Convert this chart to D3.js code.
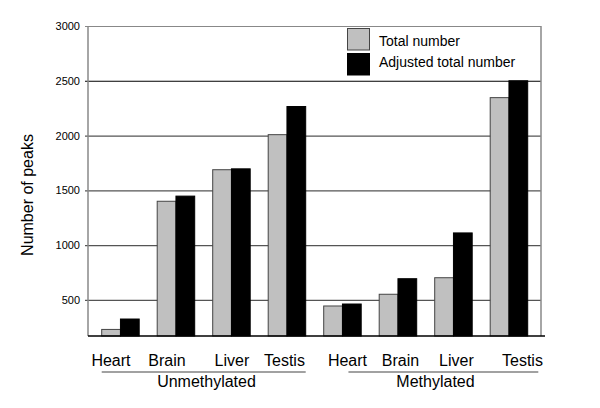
<!DOCTYPE html>
<html>
<head>
<meta charset="utf-8">
<script src="https://cdn.jsdelivr.net/npm/d3@7"></script>
<style>
html,body{margin:0;padding:0;background:#fff;}
svg{display:block;font-family:"Liberation Sans",Arial,sans-serif;}
</style>
</head>
<body>
<svg id="chart" width="600" height="408"></svg>
<script>
const categories = ["Heart","Brain","Liver","Testis","Heart","Brain","Liver","Testis"];
const groups = ["Unmethylated","Methylated"];
const groupOf = [0,0,0,0,1,1,1,1];
const seriesNames = ["Total number","Adjusted total number"];
const totalNumber = [230, 1400, 1688, 2008, 444, 551, 702, 2346];
const adjustedNumber = [325, 1447, 1696, 2265, 462, 693, 1111, 2500];
const yTicks = [500, 1000, 1500, 2000, 2500, 3000];
const colors = ["#c0c0c0", "#000000"];

(function(){
const svg = d3.select("#chart");
const pLeft = 88, pRight = 541, pTop = 26, pBottom = 336;
// label nudges (layout only)
const labelShift = [-9.5, -9, 0.5, -2.5, 5, 2.5, 3, 13.5];

const y = d3.scaleLinear().domain([170, 3000]).range([pBottom, pTop]);
const ids = categories.map((c,i)=>i);
const x0 = d3.scaleBand().domain(ids).range([92.7, 536.7]).padding(0);
const x1 = d3.scaleBand().domain([0,1]).range([9, 46.5]).padding(0);

// gridlines
const yAxis = d3.axisLeft(y).tickValues(yTicks).tickSize(-(pRight - pLeft + 3)).tickPadding(5)
  .tickFormat(d3.format("d"));
const gAxis = svg.append("g").attr("transform", `translate(${pLeft - 3},0)`).call(yAxis);
gAxis.select(".domain").remove();
gAxis.selectAll(".tick line")
  .attr("stroke", d => d === 2500 ? "#000" : (d === 3000 ? "#888" : "#555"))
  .attr("stroke-width", 1.2);
gAxis.selectAll(".tick text").attr("font-size", 11).attr("fill", "#000")
  .attr("font-family", "Liberation Sans, Arial, sans-serif");

// left and right borders
svg.append("line").attr("x1", pLeft).attr("x2", pLeft).attr("y1", y(3000)).attr("y2", pBottom)
  .attr("stroke", "#888").attr("stroke-width", 1.5);
svg.append("line").attr("x1", pRight).attr("x2", pRight).attr("y1", y(3000)).attr("y2", pBottom)
  .attr("stroke", "#888").attr("stroke-width", 1.5);

// bars
const rows = ids.map(i => ({i, vals: [totalNumber[i], adjustedNumber[i]]}));
const gBars = svg.append("g");
rows.forEach(r => {
  r.vals.forEach((v, s) => {
    gBars.append("rect")
      .attr("x", x0(r.i) + x1(s))
      .attr("y", y(v))
      .attr("width", x1.bandwidth())
      .attr("height", y(170) - y(v))
      .attr("fill", colors[s])
      .attr("stroke", s === 0 ? "#444" : "#000")
      .attr("stroke-width", 1);
  });
});

// baseline
svg.append("line").attr("x1", pLeft).attr("x2", 545).attr("y1", pBottom).attr("y2", pBottom)
  .attr("stroke", "#000").attr("stroke-width", 1.5);

// category labels
svg.append("g").selectAll("text").data(ids).join("text")
  .attr("x", i => x0(i) + x1(1) + labelShift[i])
  .attr("y", 366)
  .attr("text-anchor", "middle")
  .attr("font-size", 16)
  .text(i => categories[i]);

// group underlines and labels
groups.forEach((g, gi) => {
  const members = ids.filter(i => groupOf[i] === gi);
  const first = members[0], last = members[members.length - 1];
  const a = gi === 0 ? x0(first) + x1(0) : x0(first) + x1(1) + 6;
  const b = gi === 0 ? x0(last) + x1(1) + x1.bandwidth() : x0(last) + x1(1) + x1.bandwidth() + 10.6;
  svg.append("line").attr("x1", a).attr("x2", b).attr("y1", 372).attr("y2", 372)
    .attr("stroke", "#444").attr("stroke-width", 1.2);
  svg.append("text").attr("x", gi === 0 ? 206.5 : 435.5).attr("y", 387)
    .attr("text-anchor", "middle").attr("font-size", 16).text(g);
});

// y label
svg.append("text").attr("transform", "translate(33,195) rotate(-90)")
  .attr("text-anchor", "middle").attr("font-size", 16).text("Number of peaks");

// legend
const leg = svg.append("g");
seriesNames.forEach((n, s) => {
  leg.append("rect").attr("x", 347.5).attr("y", 28.5 + s * 25).attr("width", 22).attr("height", 21.5)
    .attr("fill", colors[s]).attr("stroke", s === 0 ? "#444" : "#000").attr("stroke-width", 1);
  leg.append("text").attr("x", 379).attr("y", 46 + s * 21).attr("font-size", 14).text(n);
});
})();
</script>
</body>
</html>
